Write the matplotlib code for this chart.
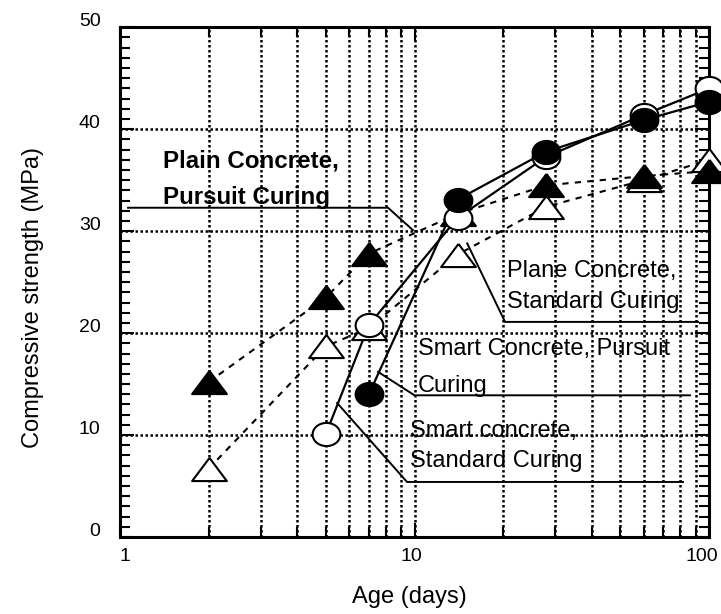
import numpy as np
import matplotlib.pyplot as plt
import matplotlib.transforms as mtransforms

plt.rcParams['font.family'] = ['Liberation Sans', 'DejaVu Sans']

# Dane (wiek w dniach, wytrzymalosc w MPa)
age_sc_std = [5, 7, 14, 28, 60, 100]
str_sc_std = [10.1, 20.8, 31.3, 37.3, 41.4, 44.0]      # smart concrete, standard curing

age_sc_pur = [7, 14, 28, 60, 100]
str_sc_pur = [14.0, 33.1, 37.8, 40.9, 42.7]            # smart concrete, pursuit curing

age_pc_pur = [2, 5, 7, 14, 28, 60, 100]
str_pc_pur = [15.2, 23.5, 27.8, 31.7, 34.5, 35.4, 35.9]  # plain concrete, pursuit curing

age_pc_std = [2, 5, 7, 14, 28, 60, 100]
str_pc_std = [6.7, 18.7, 20.5, 27.7, 32.4, 35.0, 37.0]   # plain concrete, standard curing

x_ticks = [1, 10, 100]
x_minor = [2, 3, 4, 5, 6, 7, 8, 9, 20, 30, 40, 50, 60, 70, 80, 90]
y_ticks = [0, 10, 20, 30, 40, 50]

# opisy z liniami odniesienia: (linie tekstu, pozycja x, baseline y, punkty linii)
labels = [
    (["Plain Concrete,", "Pursuit Curing"], 1.40, [36.2, 32.7], 'bold',
     [(1.065, 32.3), (8.13, 32.3), (9.88, 30.1)]),
    (["Plane Concrete,", "Standard Curing"], 20.6, [25.5, 22.5], 'normal',
     [(15.1, 28.8), (20.3, 21.1), (91.8, 21.1)]),
    (["Smart Concrete, Pursuit", "Curing"], 10.28, [17.9, 14.2], 'normal',
     [(7.52, 16.2), (10.0, 13.9), (86.2, 13.9)]),
    (["Smart concrete,", "Standard Curing"], 9.66, [9.8, 6.9], 'normal',
     [(5.46, 13.15), (9.43, 5.4), (81.6, 5.4)]),
]

# markery - troche szersze niz wyzsze, jak w oryginale
t = np.linspace(0, 2 * np.pi, 61)
ellipse = list(zip(1.2 * np.cos(t), np.sin(t)))
triangle = [(0, 1), (-1.5, -1), (1.5, -1), (0, 1)]

fig = plt.figure(figsize=(7.21, 6.14), dpi=100)
ax = fig.add_axes([120 / 721, 1 - 537 / 614, 589 / 721, 509.7 / 614])
ax.set_xscale('log')
ax.set_xlim(1, 100)
ax.set_ylim(0, 50)

# linie danych
ax.plot(age_pc_std, str_pc_std, color='black', lw=1.5, ls=(0, (3, 3)), zorder=2)
ax.plot(age_pc_pur, str_pc_pur, color='black', lw=1.5, ls=(0, (3, 3)), zorder=2)
ax.plot(age_sc_std, str_sc_std, color='black', lw=1.6, zorder=2)
ax.plot(age_sc_pur, str_sc_pur, color='black', lw=1.6, zorder=2)

# markery (nie przycinane przy prawej krawedzi)
ax.plot(age_pc_std, str_pc_std, ls='none', marker=triangle, ms=25, mfc='white',
        mec='black', mew=1.5, zorder=3, clip_on=False)
ax.plot(age_pc_pur, str_pc_pur, ls='none', marker=triangle, ms=25, mfc='black',
        mec='black', mew=1.5, zorder=4, clip_on=False)
ax.plot(age_sc_std, str_sc_std, ls='none', marker=ellipse, ms=20, mfc='white',
        mec='black', mew=1.5, zorder=5, clip_on=False)
ax.plot(age_sc_pur, str_sc_pur, ls='none', marker=ellipse, ms=20, mfc='black',
        mec='black', mew=1.5, zorder=6, clip_on=False)

# opisy
for lines, tx, ty, weight, pts in labels:
    for line, yb in zip(lines, ty):
        ax.text(tx, yb, line, fontsize=17 if weight == 'normal' else 17.4,
                fontweight=weight, va='baseline', ha='left', zorder=7)
    px, py = zip(*pts)
    ax.plot(px, py, color='black', lw=1.4, zorder=2)

# osie
ax.set_xticks(x_ticks)
ax.set_xticklabels([str(v) for v in x_ticks])
ax.set_xticks(x_minor, minor=True)
ax.set_xticklabels([], minor=True)
ax.set_yticks(y_ticks)
ax.set_yticks(np.arange(0, 51, 1), minor=True)

ax.grid(True, which='both', axis='x', color='black', lw=1.8, ls=(0, (1, 1)), zorder=1)
ax.grid(True, which='major', axis='y', color='black', lw=1.8, ls=(0, (1, 1)), zorder=1)
ax.set_axisbelow(True)

ax.tick_params(which='both', direction='in', top=True, right=True, colors='black')
ax.tick_params(which='major', length=10, width=1.5)
ax.tick_params(which='minor', length=7, width=1.5)
ax.tick_params(axis='y', labelsize=14, pad=14)
ax.tick_params(axis='x', labelsize=14, pad=8)

shift = mtransforms.ScaledTranslation(0, 8 / 100, fig.dpi_scale_trans)
for lab in ax.get_yticklabels():
    lab.set_transform(lab.get_transform() + shift)
# x: etykiety lekko przesuniete jak w oryginale
x_shift_px = [5, -3, -7]
for lab, dx in zip(ax.get_xticklabels(), x_shift_px):
    lab.set_transform(lab.get_transform() +
                      mtransforms.ScaledTranslation(dx / 100, 0, fig.dpi_scale_trans))

for sp in ax.spines.values():
    sp.set_linewidth(2.2)

ax.set_xlabel('Age (days)', fontsize=17)
ax.set_ylabel('Compressive strength (MPa)', fontsize=17)
ax.xaxis.set_label_coords(0.492, -0.097)
ax.yaxis.set_label_coords(-0.129, 0.47)

fig.savefig('out.png', dpi=100)
